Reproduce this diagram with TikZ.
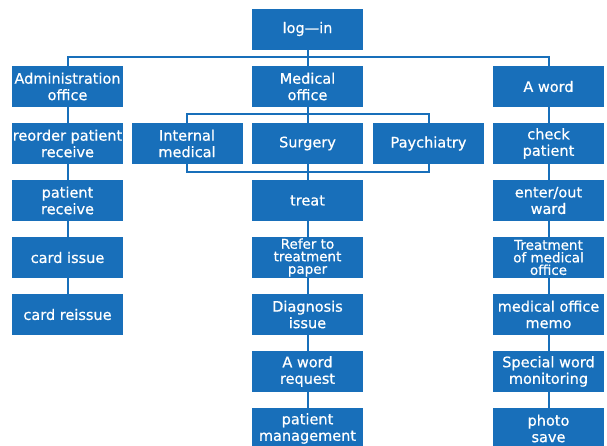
\documentclass[tikz,border=0pt]{standalone}
\usepackage{fontspec}
\setmainfont{DejaVu Sans}
\newfontfamily\menufont[FakeBold=0.6]{DejaVu Sans}
\usepackage{tikz}
\definecolor{boxblue}{RGB}{24,111,186}
\tikzstyle{menu}=[fill=boxblue, text=white, inner sep=0pt, minimum width=111pt, minimum height=41pt, align=center, font=\menufont\fontsize{14.5}{16.5}\selectfont]
\tikzstyle{tightmenu}=[menu, font=\menufont\fontsize{13.5}{12.5}\selectfont]
\tikzstyle{link}=[draw=boxblue, line width=2pt]

\begin{document}
\begin{tikzpicture}[x=1pt, y=-1pt]
        \useasboundingbox (0, 0) rectangle (607, 445);
        \node[menu] (login) at (307.5, 29) {log—in};
        \node[menu] (admin) at (67.5, 86.5) {Administration\\office};
        \node[menu] (medical) at (307.5, 86.5) {Medical\\office};
        \node[menu] (aword) at (548.5, 86.5) {A word};
        \node[menu] (reorder) at (67.5, 143.5) {reorder patient\\receive};
        \node[menu] (internal) at (187, 143.5) {Internal\\medical};
        \node[menu] (surgery) at (307.5, 143.5) {Surgery};
        \node[menu] (psych) at (428.5, 143.5) {Paychiatry};
        \node[menu] (check) at (548.5, 143.5) {check\\patient};
        \node[menu] (receive) at (67.5, 200.5) {patient\\receive};
        \node[menu] (treat) at (307.5, 200.5) {treat};
        \node[menu] (ward) at (548.5, 200.5) {enter/out\\ward};
        \node[menu] (card) at (67.5, 257.5) {card issue};
        \node[tightmenu] (refer) at (307.5, 257.5) {Refer to\\treatment\\paper};
        \node[tightmenu] (treatment) at (548.5, 257.5) {Treatment\\of medical\\office};
        \node[menu] (reissue) at (67.5, 314.5) {card reissue};
        \node[menu] (diagnosis) at (307.5, 314.5) {Diagnosis\\issue};
        \node[menu] (memo) at (548.5, 314.5) {medical office\\memo};
        \node[menu] (request) at (307.5, 371.5) {A word\\request};
        \node[menu] (monitor) at (548.5, 371.5) {Special word\\monitoring};
        \node[menu] (manage) at (307.5, 428.5) {patient\\management};
        \node[menu] (photo) at (548.5, 428.5) {photo\\save};
        \coordinate (top) at (307.5, 57);
        \coordinate (upper) at (307.5, 114);
        \coordinate (lower) at (307.5, 172);
        \draw[link] (login.south) -- (medical.north);
        \draw[link] (admin.north) |- (top) -| (aword.north);
        \draw[link] (medical.south) -- (surgery.north);
        \draw[link] (internal.north) |- (upper) -| (psych.north);
        \draw[link] (internal.south) |- (lower) -| (psych.south);
        \draw[link] (surgery.south) -- (treat.north);
        \draw[link] (admin.south) -- (reorder.north);
        \draw[link] (reorder.south) -- (receive.north);
        \draw[link] (receive.south) -- (card.north);
        \draw[link] (card.south) -- (reissue.north);
        \draw[link] (treat.south) -- (refer.north);
        \draw[link] (refer.south) -- (diagnosis.north);
        \draw[link] (diagnosis.south) -- (request.north);
        \draw[link] (request.south) -- (manage.north);
        \draw[link] (aword.south) -- (check.north);
        \draw[link] (check.south) -- (ward.north);
        \draw[link] (ward.south) -- (treatment.north);
        \draw[link] (treatment.south) -- (memo.north);
        \draw[link] (memo.south) -- (monitor.north);
        \draw[link] (monitor.south) -- (photo.north);
    \end{tikzpicture}
\end{document}
